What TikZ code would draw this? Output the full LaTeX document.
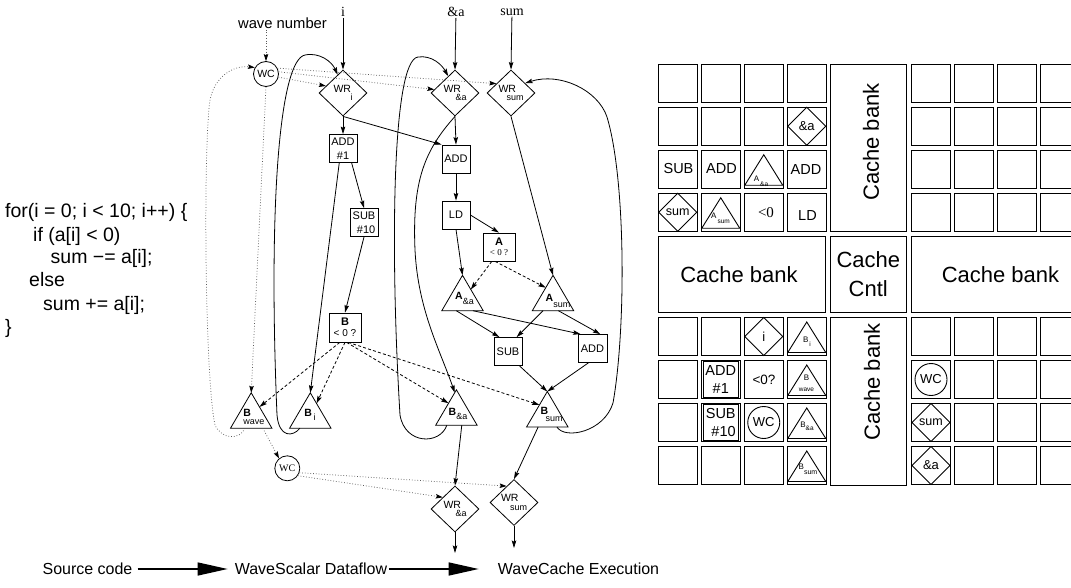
\documentclass[tikz,border=0pt]{standalone}
\usepackage{fontspec}
\setmainfont{Liberation Sans}
\newfontfamily\serifff{Liberation Serif}
\usetikzlibrary{arrows.meta,calc,shapes.geometric}
\newcommand\fsz[1]{\fontsize{#1}{#1}\selectfont}
\newcommand\tri[2]{\node[tribox] (#1) at (#2) {};\draw[ln,line join=miter] (#1.south west) -- (#1.north) -- (#1.south east) -- cycle;}
\newcommand\ctri[1]{\draw[cl] (#1) ++(-19,16) -- ++(19,-30.5) -- ++(19,30.5) -- cycle;}
\begin{document}
\begin{tikzpicture}[x=1pt,y=-1pt,
  ln/.style={line width=0.8pt},
  arr/.style={ln,-{Stealth[length=7.5pt,width=4.5pt,inset=1.2pt]}},
  darr/.style={arr,dash pattern=on 3pt off 2.2pt},
  dotarr/.style={line width=0.75pt,black!65,dotted,-{Stealth[length=7pt,width=4.5pt,inset=1.2pt,color=black]}},
  op/.style={draw,ln,rectangle,inner sep=0pt,minimum width=28pt,minimum height=28pt,align=center,font=\fsz{11}},
  wr/.style={draw,ln,diamond,inner sep=0pt,minimum width=48pt,minimum height=46pt,align=left,font=\fsz{10.5}},
  wc/.style={draw,ln,circle,inner sep=0pt,minimum size=25pt,font=\fsz{10.5}},
  tribox/.style={inner sep=0pt,minimum width=41pt,minimum height=35pt},
  tl/.style={inner sep=0pt,align=left,font=\fsz{10.5}},
  code/.style={anchor=base west,inner sep=0pt,font=\fsz{19.5}},
  big/.style={inner sep=0pt,font=\fsz{16}},
  bigarr/.style={line width=1.4pt,-{Triangle[length=30pt,width=13pt]}},
  cl/.style={line width=0.9pt},
  ctxt/.style={inner sep=0pt,font=\fsz{14.5},align=center},
  cdia/.style={draw,cl,diamond,inner sep=0pt,minimum width=38.5pt,minimum height=38.5pt,font=\fsz{13}},
  ccirc/.style={draw,cl,circle,inner sep=0pt,minimum size=32pt,font=\fsz{13}},
  cbox/.style={draw,cl,rectangle,inner sep=0pt,minimum size=35.5pt,font=\fsz{14.5},align=center},
  ctl/.style={inner sep=0pt,align=left},
  bank/.style={inner sep=0pt,font=\fsz{22},align=center}]
\useasboundingbox (0,0) rectangle (1071,588);

% ---------- source code ----------
\node[code] (c1) at (5,218) {for(i = 0; i < 10; i++) \{};
\node[code] (c2) at (33,241) {if (a[i] < 0)};
\node[code] (c3) at (50.5,264) {sum −= a[i];};
\node[code] (c4) at (29,287) {else};
\node[code] (c5) at (43,310) {sum += a[i];};
\node[code] (c6) at (5,333) {\}};

% ---------- dataflow graph ----------
\node[font=\serifff\fsz{14},inner sep=1pt] (li) at (343,12) {i};
\node[font=\serifff\fsz{14},inner sep=1pt] (la) at (456,12) {\&a};
\node[font=\serifff\fsz{14},inner sep=1pt] (ls) at (512,12) {sum};
\node[font=\fsz{14.8},inner sep=1pt] (wn) at (282.5,23) {wave number};

\node[wr] (WRi) at (343,93) {WR\\[-2pt]\hspace*{17pt}{\fsz{9}i}};
\node[wr] (WRa) at (455,93) {WR\\[-2pt]\hspace*{12pt}{\fsz{9}\&a}};
\node[wr] (WRs) at (511,93) {WR\\[-2pt]\hspace*{8pt}{\fsz{9}sum}};
\node[wr] (WRab) at (455,509) {WR\\[-2pt]\hspace*{12pt}{\fsz{9}\&a}};
\node[wr] (WRsb) at (514,502.5) {WR\\[-2pt]\hspace*{9pt}{\fsz{9}sum}};

\node[wc] (WCt) at (266,74) {WC};
\node[wc,font=\serifff\fsz{10}] (WCb) at (287.3,468.3) {WC};

\node[op] (add1) at (343,148.5) {ADD\\[3pt]\#1};
\node[op,align=right] (sub10) at (364,222.5) {SUB\\[3pt]\#10};
\node[op] (addA) at (456,159) {ADD};
\node[op] (ld) at (456,215) {LD};
\node[op,minimum width=32pt] (Aq) at (499,247) {\textbf{A}\\[-1pt]{\serifff\fsz{9}< 0 ?}};
\node[op,minimum width=32pt,minimum height=29pt] (Bq) at (345,327.5) {\textbf{B}\\[0pt]{\fsz{10}< 0 ?}};
\node[op] (sub) at (508,351.5) {SUB};
\node[op,minimum width=29pt] (addr) at (592.5,348.5) {ADD};

\tri{Bw}{251.2,410.5}
\tri{Bi}{310.3,410.5}
\tri{Ba}{456.4,407.5}
\tri{Bs}{547.3,409.2}
\tri{Aa}{462.5,293}
\tri{As}{553,293}
\node[tl] (tBw) at (254,417) {\textbf{B}\\[-2pt]{\fsz{9}wave}};
\node[tl] (tBi) at (310,415) {\textbf{B}\raisebox{-4pt}{\fsz{9}\,i}};
\node[tl] (tBa) at (458,413.5) {\textbf{B}\raisebox{-4pt}{\fsz{9}\&a}};
\node[tl] (tBs) at (551.5,414.5) {\textbf{B}\\[-3pt]\hspace*{5pt}{\fsz{9}sum}};
\node[tl] (tAa) at (464.5,298.5) {\textbf{A}\raisebox{-5pt}{\fsz{9}\&a}};
\node[tl] (tAs) at (558,301) {\textbf{A}\raisebox{-6pt}{\fsz{9}sum}};

\coordinate (outa) at (455,553);
\coordinate (outs) at (514,548);

% solid edges
\draw[arr] (li) -- (WRi.north);
\draw[arr] (la) -- (WRa.north);
\draw[arr] (ls) -- (WRs.north);
\draw[arr] (WRi.south) -- (add1.north);
\draw[arr] (WRi.south) -- (addA.north west);
\draw[arr] (WRa.south) -- (addA.north);
\draw[arr] (addA.south) -- (ld.north);
\draw[arr] (ld.east) -- (Aq.north);
\draw[arr] (ld.south) -- (Aa.north);
\draw[darr] ($(Aq.south west)!0.28!(Aq.south east)$) -- ($(Aa.north)!0.4!(Aa.south east)$);
\draw[darr] ($(Aq.south west)!0.38!(Aq.south east)$) -- ($(As.north)!0.35!(As.south west)$);
\draw[arr] (WRs.south) -- (As.north);
\draw[arr] ($(Aa.south west)!0.35!(Aa.south east)$) -- ($(sub.north west)!0.2!(sub.north east)$);
\draw[arr] ($(Aa.south west)!0.75!(Aa.south east)$) -- ($(addr.north west)!0.1!(addr.north east)$);
\draw[arr] ($(As.south west)!0.26!(As.south east)$) -- ($(sub.north west)!0.8!(sub.north east)$);
\draw[arr] ($(As.south west)!0.63!(As.south east)$) -- ($(addr.north west)!0.76!(addr.north east)$);
\draw[arr] ($(sub.south west)!0.9!(sub.south east)$) -- (Bs.north);
\draw[arr] ($(addr.south west)!0.36!(addr.south east)$) -- (Bs.north);
\draw[arr] ($(add1.south west)!0.8!(add1.south east)$) -- (sub10.north);
\draw[arr] ($(add1.south west)!0.37!(add1.south east)$) -- (Bi.north);
\draw[arr] (sub10.south) -- (Bq.north);
\draw[darr] ($(Bq.south west)!0.34!(Bq.south east)$) -- ($(Bw.north)!0.4!(Bw.south east)$);
\draw[darr] ($(Bq.south west)!0.5!(Bq.south east)$) -- ($(Bi.north)!0.3!(Bi.south east)$);
\draw[darr] ($(Bq.south west)!0.55!(Bq.south east)$) -- ($(Ba.north)!0.38!(Ba.south west)$);
\draw[darr] ($(Bq.south west)!0.6!(Bq.south east)$) -- ($(Bs.north)!0.38!(Bs.south west)$);
\draw[arr] ($(Ba.south west)!0.63!(Ba.south east)$) -- (WRab.north);
\draw[arr] ($(Bs.south west)!0.28!(Bs.south east)$) -- (WRsb.north);
\draw[arr] (WRab.south) -- (outa);
\draw[arr] (WRsb.south) -- (outs);

% loops
\draw[arr] ($(Bi.south west)!0.25!(Bi.south east)$) .. controls (293,437) and (279,438) .. (277,415)
  .. controls (268,200) and (280,60) .. (305,55) .. controls (320,52) and (332,62) .. ($(WRi.west)!0.78!(WRi.north)$);
\draw[arr] ($(Ba.south west)!0.27!(Ba.south east)$) .. controls (440,445) and (405,445) .. (400,415)
  .. controls (390,250) and (392,60) .. (418,57) .. controls (432,55) and (442,65) .. ($(WRa.west)!0.72!(WRa.north)$);
\draw[arr] (WRa.south) .. controls (425,150) and (412,180) .. (415,250)
  .. controls (418,310) and (440,350) .. ($(Ba.north)!0.08!(Ba.south west)$);
\draw[arr] ($(Bs.south west)!0.73!(Bs.south east)$) .. controls (565,440) and (604,432) .. (613,403)
  .. controls (626,330) and (626,180) .. (607,117) .. controls (598,90) and (560,72) .. ($(WRs.east)!0.42!(WRs.north)$);

% dotted wave control
\draw[dotarr] (wn.south -| WCt) -- (WCt.north);
\draw[dotarr] (WCt.-14) -- ($(WRi.west)!0.3!(WRi.north)$);
\draw[dotarr] (WCt.10) -- ($(WRa.west)!0.15!(WRa.north)$);
\draw[dotarr] (WCt.27) -- ($(WRs.west)!0.4!(WRs.north)$);
\draw[dotarr] (WCt.south) -- (Bw.north);
\draw[dotarr] ($(Bw.south west)!0.35!(Bw.south east)$) .. controls (240,440) and (222,440) .. (215,425)
  .. controls (205,380) and (203,150) .. (210,100) .. controls (215,75) and (235,65) .. (WCt.150);
\draw[dotarr] ($(Bw.south west)!0.78!(Bw.south east)$) -- (WCb.130);
\draw[dotarr] (WCb.-20) -- ($(WRsb.west)!0.7!(WRsb.north)$);
\draw[dotarr] (WCb.-35) -- ($(WRab.west)!0.5!(WRab.north)$);

% ---------- bottom captions ----------
\node[big] (src) at (87.5,569) {Source code};
\node[big] (wsd) at (311,569) {WaveScalar Dataflow};
\node[big] (wce) at (578.5,569) {WaveCache Execution};
\draw[bigarr,shorten <=5pt,shorten >=7pt] (src.east) -- (wsd.west);
\draw[bigarr,shorten <=2pt,shorten >=19pt] (wsd.east) -- (wce.west);

% ---------- WaveCache grid ----------
\begin{scope}
\clip (0,0) rectangle (1071,588);
\foreach \c in {0,...,3} \foreach \r in {0,...,3} {
  \draw[cl] ({658.5+43*\c},{64+43*\r}) rectangle ++(38.5,38.5);
  \draw[cl] ({658.5+43*\c},{317.3+43*\r}) rectangle ++(38.5,38.5);
  \draw[cl] ({911.7+43*\c},{64+43*\r}) rectangle ++(38.5,38.5);
  \draw[cl] ({911.7+43*\c},{317.3+43*\r}) rectangle ++(38.5,38.5);
}
\draw[cl] (658.3,236) rectangle (825.7,312.3);
\draw[cl] (830,236) rectangle (906.7,312.3);
\draw[cl] (911.7,236) rectangle (1090,312.3);
\draw[cl] (830,64) rectangle (906.7,231.7);
\draw[cl] (830,317.3) rectangle (906.7,485.7);
\end{scope}
\node[bank] (b1) at (739,275) {Cache bank};
\node[bank] (b2) at (1000.5,275) {Cache bank};
\node[bank,font={\fontsize{22}{29}\selectfont}] (b3) at (868.3,274) {Cache\\Cntl};
\node[bank,rotate=90] (b4) at (871,142) {Cache bank};
\node[bank,rotate=90] (b5) at (872,382) {Cache bank};

% top-left tiles
\node[cdia] (g1) at (806.75,126.25) {\&a};
\node[ctxt] (g2) at (678.5,169) {SUB};
\node[ctxt] (g3) at (721.5,169) {ADD};
\ctri{763.75,169.25}
\node[ctl] (g4) at (761,181) {\fsz{8}A\raisebox{-5pt}{\fsz{6.5}\,\&a}};
\node[ctxt] (g5) at (806,170) {ADD};
\node[cdia,font=\fsz{12.5}] (g6) at (677.75,212.25) {sum};
\ctri{720.75,212.25}
\node[ctl] (g7) at (720.5,218) {\fsz{8}A\raisebox{-5pt}{\fsz{6.5}\,sum}};
\node[ctxt,font=\serifff\fsz{15}] (g8) at (766,213) {<0};
\node[ctxt] (g9) at (807.5,215.5) {LD};

% bottom-left tiles
\node[cdia] (g10) at (763.75,336.5) {i};
\ctri{806.75,336.5}
\node[ctl] (g11) at (807,342) {\fsz{8}B\raisebox{-4pt}{\fsz{6.5}\,i}};
\node[cbox] (g12) at (720.75,379.5) {ADD\\[3pt]\#1};
\node[ctxt,font=\fsz{13.5}] (g13) at (764,380) {<0?};
\ctri{806.75,379.5}
\node[ctl,align=center] (g14) at (806.5,383) {\fsz{8}B\\[-1pt]\fsz{6.5}wave};
\node[cbox,align=right] (g15) at (720.75,422.5) {SUB\\[3pt]\#10};
\node[ccirc] (g16) at (763.75,422.5) {WC};
\ctri{806.75,422.5}
\node[ctl] (g17) at (807,426) {\fsz{8}B\raisebox{-3pt}{\fsz{6.5}\&a}};
\ctri{806.75,465.5}
\node[ctl] (g18) at (808,469) {\fsz{8}B\raisebox{-5pt}{\fsz{7}sum}};

% bottom-right tiles
\node[ccirc] (g19) at (931,379.5) {WC};
\node[cdia,font=\fsz{12.5}] (g20) at (931,422.5) {sum};
\node[cdia] (g21) at (931,465.5) {\&a};
\end{tikzpicture}
\end{document}
